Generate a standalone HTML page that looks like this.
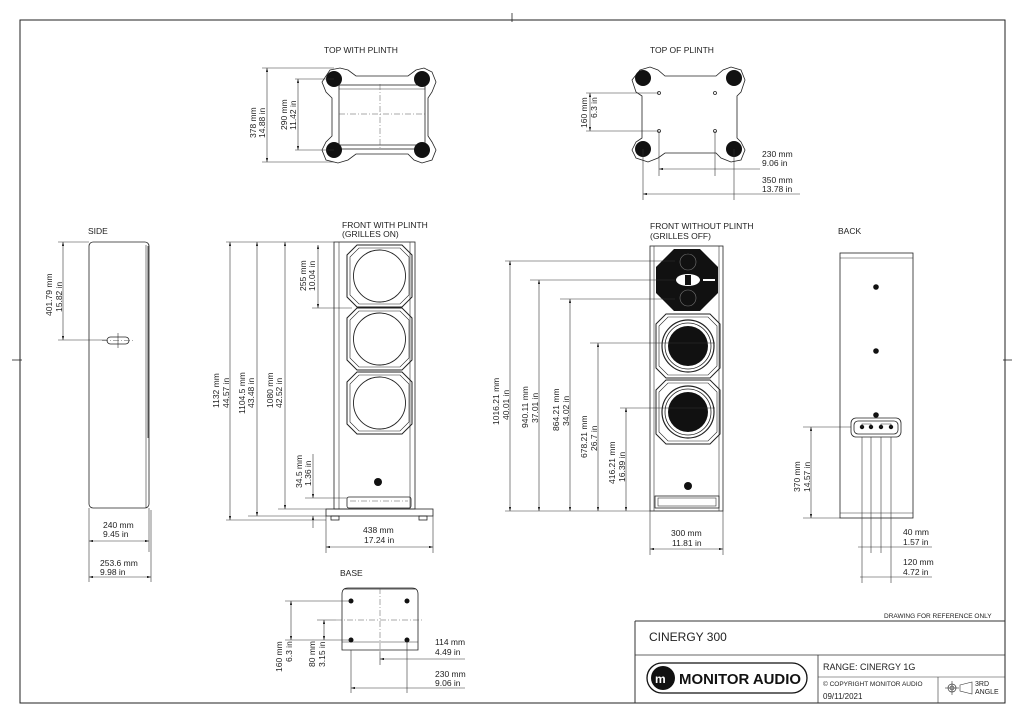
<!DOCTYPE html>
<html><head><meta charset="utf-8"><style>
html,body{margin:0;padding:0;background:#fff}
svg{display:block}
text{font-family:"Liberation Sans",Arial,sans-serif;fill:#222;font-size:8.5px}
.l{stroke:#222;stroke-width:0.8;fill:none}
.d{stroke:#333;stroke-width:0.6;fill:none}
.c{stroke:#555;stroke-width:0.5;fill:none;stroke-dasharray:6 2 1 2}
</style></head><body>
<svg id="s" width="1024" height="721" viewBox="0 0 1024 721" xmlns="http://www.w3.org/2000/svg">
<defs>
<marker id="a" viewBox="0 0 10 6" refX="10" refY="3" markerWidth="7" markerHeight="4" orient="auto-start-reverse"><path d="M0,0 L10,3 L0,6z" fill="#222"/></marker>
</defs>
<rect x="20" y="20" width="985" height="683" fill="none" stroke="#222" stroke-width="1"/>
<line x1="512" y1="13" x2="512" y2="22" class="l"/>
<line x1="12" y1="360" x2="22" y2="360" class="l"/>
<line x1="1003" y1="360" x2="1012" y2="360" class="l"/>

<!-- TOP WITH PLINTH -->
<text x="324" y="53">TOP WITH PLINTH</text>
<path class="l" d="M330,70 L340,68 L348,70 L356,76 L408,76 L416,70 L424,68 L432,72 L436,82 L432,92 L428,98 L428,136 L432,142 L436,150 L432,160 L422,163 L414,160 L408,154 L356,154 L348,160 L338,163 L326,160 L322,150 L326,142 L332,136 L332,98 L326,92 L322,82 Z"/>
<rect x="339" y="85" width="86" height="64" class="l"/>
<line x1="339" y1="89" x2="425" y2="89" class="d"/>
<line x1="339" y1="145" x2="425" y2="145" class="l" stroke-width="2"/>
<line x1="380" y1="84" x2="380" y2="150" class="c"/>
<line x1="339" y1="114" x2="425" y2="114" class="c"/>
<circle cx="334" cy="79" r="8" fill="#111"/><circle cx="422" cy="79" r="8" fill="#111"/>
<circle cx="334" cy="150" r="8" fill="#111"/><circle cx="422" cy="150" r="8" fill="#111"/>
<line x1="262" y1="68" x2="334" y2="68" class="d"/><line x1="262" y1="162" x2="334" y2="162" class="d"/>
<line x1="267" y1="68" x2="267" y2="162" class="d" marker-start="url(#a)" marker-end="url(#a)"/>
<line x1="295" y1="79" x2="334" y2="79" class="d"/><line x1="295" y1="150" x2="334" y2="150" class="d"/>
<line x1="298" y1="79" x2="298" y2="150" class="d" marker-start="url(#a)" marker-end="url(#a)"/>
<text transform="translate(256,138) rotate(-90)">378 mm</text><text transform="translate(265,138) rotate(-90)">14.88 in</text>
<text transform="translate(287,130) rotate(-90)">290 mm</text><text transform="translate(296,130) rotate(-90)">11.42 in</text>

<!-- TOP OF PLINTH -->
<text x="650" y="53">TOP OF PLINTH</text>
<path class="l" d="M640,70 L650,67 L658,70 L665,76 L716,76 L723,70 L731,67 L741,70 L745,80 L741,92 L737,96 L737,138 L741,142 L745,150 L741,160 L731,162 L721,158 L716,153 L665,153 L658,158 L648,162 L636,158 L632,150 L636,142 L642,138 L642,96 L636,92 L632,80 Z"/>
<circle cx="643" cy="78" r="8" fill="#111"/><circle cx="734" cy="78" r="8" fill="#111"/>
<circle cx="643" cy="149" r="8" fill="#111"/><circle cx="734" cy="149" r="8" fill="#111"/>
<circle cx="659" cy="93" r="1.5" class="l"/><circle cx="715" cy="93" r="1.5" class="l"/>
<circle cx="659" cy="131" r="1.5" class="l"/><circle cx="715" cy="131" r="1.5" class="l"/>
<line x1="586" y1="93" x2="659" y2="93" class="d"/><line x1="586" y1="131" x2="659" y2="131" class="d"/>
<line x1="590" y1="93" x2="590" y2="131" class="d" marker-start="url(#a)" marker-end="url(#a)"/>
<text transform="translate(587,128) rotate(-90)">160 mm</text><text transform="translate(597,118) rotate(-90)">6.3 in</text>
<line x1="659" y1="131" x2="659" y2="176" class="d"/><line x1="715" y1="131" x2="715" y2="176" class="d"/>
<line x1="659" y1="169" x2="760" y2="169" class="d" marker-start="url(#a)"/>
<line x1="643" y1="149" x2="643" y2="200" class="d"/><line x1="734" y1="149" x2="734" y2="200" class="d"/>
<line x1="643" y1="194" x2="800" y2="194" class="d" marker-start="url(#a)"/>
<text x="762" y="157">230 mm</text><text x="762" y="166">9.06 in</text>
<text x="762" y="183">350 mm</text><text x="762" y="192">13.78 in</text>

<!-- SIDE -->
<text x="88" y="234">SIDE</text>
<rect x="89" y="242" width="60" height="266" rx="4" class="l"/>
<line x1="146" y1="245" x2="146" y2="508" class="d"/>
<line x1="148" y1="246" x2="148" y2="438" class="l" stroke-width="2"/>
<rect x="107" y="337" width="22" height="7" rx="3.5" class="l"/>
<line x1="118" y1="333" x2="118" y2="348" class="d"/><line x1="102" y1="340.5" x2="134" y2="340.5" class="c"/>
<line x1="58" y1="242" x2="89" y2="242" class="d"/><line x1="58" y1="340" x2="107" y2="340" class="d"/>
<line x1="63" y1="242" x2="63" y2="340" class="d" marker-start="url(#a)" marker-end="url(#a)"/>
<text transform="translate(52,316) rotate(-90)">401.79 mm</text><text transform="translate(62,312) rotate(-90)">15.82 in</text>
<line x1="89" y1="508" x2="89" y2="582" class="d"/><line x1="149" y1="508" x2="149" y2="552" class="d"/><line x1="151" y1="510" x2="151" y2="582" class="d"/>
<line x1="89" y1="541" x2="149" y2="541" class="d" marker-start="url(#a)" marker-end="url(#a)"/>
<line x1="89" y1="577" x2="151" y2="577" class="d" marker-start="url(#a)" marker-end="url(#a)"/>
<text x="103" y="528">240 mm</text><text x="103" y="537">9.45 in</text>
<text x="100" y="566">253.6 mm</text><text x="100" y="575">9.98 in</text>

<!-- FRONT WITH PLINTH -->
<text x="342" y="228">FRONT WITH PLINTH</text><text x="342" y="237">(GRILLES ON)</text>
<rect x="334" y="242" width="81" height="267" class="l"/>
<line x1="339" y1="242" x2="339" y2="509" class="d"/><line x1="410" y1="242" x2="410" y2="509" class="d"/>
<g id="g1"></g>
<circle cx="378" cy="482" r="4" fill="#111"/>
<rect x="347" y="497" width="64" height="11" rx="2" class="l"/>
<line x1="350" y1="501" x2="408" y2="501" class="c"/>
<rect x="326" y="509" width="107" height="7" class="l"/>
<rect x="331" y="516" width="8" height="4" class="l"/><rect x="419" y="516" width="8" height="4" class="l"/>
<line x1="226" y1="242" x2="334" y2="242" class="d"/>
<line x1="226" y1="520" x2="326" y2="520" class="d"/>
<line x1="230" y1="242" x2="230" y2="520" class="d" marker-start="url(#a)" marker-end="url(#a)"/>
<line x1="257" y1="242" x2="257" y2="516" class="d" marker-start="url(#a)" marker-end="url(#a)"/>
<line x1="248" y1="516" x2="326" y2="516" class="d"/>
<line x1="285" y1="242" x2="285" y2="509" class="d" marker-start="url(#a)" marker-end="url(#a)"/>
<line x1="278" y1="509" x2="334" y2="509" class="d"/>
<line x1="318" y1="245" x2="318" y2="308" class="d" marker-start="url(#a)" marker-end="url(#a)"/>
<line x1="312" y1="308" x2="352" y2="308" class="d"/>
<line x1="313" y1="454" x2="313" y2="498" class="d" marker-end="url(#a)"/>
<line x1="313" y1="516" x2="313" y2="528" class="d" marker-start="url(#a)"/>
<line x1="305" y1="498" x2="347" y2="498" class="d"/>
<text transform="translate(219,408) rotate(-90)">1132 mm</text><text transform="translate(229,408) rotate(-90)">44.57 in</text>
<text transform="translate(245,414) rotate(-90)">1104.5 mm</text><text transform="translate(254,408) rotate(-90)">43.48 in</text>
<text transform="translate(273,408) rotate(-90)">1080 mm</text><text transform="translate(282,408) rotate(-90)">42.52 in</text>
<text transform="translate(306,291) rotate(-90)">255 mm</text><text transform="translate(315,291) rotate(-90)">10.04 in</text>
<text transform="translate(302,488) rotate(-90)">34.5 mm</text><text transform="translate(311,486) rotate(-90)">1.36 in</text>
<line x1="326" y1="516" x2="326" y2="553" class="d"/><line x1="433" y1="516" x2="433" y2="553" class="d"/>
<line x1="326" y1="547" x2="433" y2="547" class="d" marker-start="url(#a)" marker-end="url(#a)"/>
<text x="363" y="533">438 mm</text><text x="364" y="543">17.24 in</text>

<!-- FRONT WITHOUT PLINTH -->
<text x="650" y="229">FRONT WITHOUT PLINTH</text><text x="650" y="239">(GRILLES OFF)</text>
<rect x="650" y="246" width="73" height="265" class="l"/>
<line x1="654" y1="246" x2="654" y2="511" class="d"/><line x1="719" y1="246" x2="719" y2="511" class="d"/>
<polygon points="674,249 700,249 718,267 718,293 700,311 674,311 656,293 656,267" fill="#111"/>
<circle cx="688" cy="262" r="8" fill="none" stroke="#777" stroke-width="0.6"/>
<circle cx="688" cy="298" r="8" fill="none" stroke="#777" stroke-width="0.6"/>
<ellipse cx="688" cy="280" rx="12" ry="6" fill="#fff"/>
<rect x="685" y="275" width="6" height="10" fill="#111"/>
<rect x="703" y="279" width="12" height="2" fill="#fff"/>
<g id="g2"></g>
<circle cx="688" cy="486" r="4" fill="#111"/>
<rect x="655" y="496" width="64" height="12" class="l"/><rect x="658" y="498" width="58" height="8" class="d"/>
<line x1="505" y1="261" x2="675" y2="261" class="d"/>
<line x1="530" y1="280" x2="675" y2="280" class="d"/>
<line x1="560" y1="299" x2="675" y2="299" class="d"/>
<line x1="590" y1="343" x2="715" y2="343" class="d"/>
<line x1="620" y1="408" x2="715" y2="408" class="d"/>
<line x1="505" y1="511" x2="650" y2="511" class="d"/>
<line x1="510" y1="261" x2="510" y2="511" class="d" marker-start="url(#a)" marker-end="url(#a)"/>
<line x1="539" y1="280" x2="539" y2="511" class="d" marker-start="url(#a)" marker-end="url(#a)"/>
<line x1="570" y1="299" x2="570" y2="511" class="d" marker-start="url(#a)" marker-end="url(#a)"/>
<line x1="598" y1="343" x2="598" y2="511" class="d" marker-start="url(#a)" marker-end="url(#a)"/>
<line x1="626" y1="408" x2="626" y2="511" class="d" marker-start="url(#a)" marker-end="url(#a)"/>
<text transform="translate(499,425) rotate(-90)">1016.21 mm</text><text transform="translate(509,420) rotate(-90)">40.01 in</text>
<text transform="translate(528,428) rotate(-90)">940.11 mm</text><text transform="translate(538,423) rotate(-90)">37.01 in</text>
<text transform="translate(559,431) rotate(-90)">864.21 mm</text><text transform="translate(569,426) rotate(-90)">34.02 in</text>
<text transform="translate(587,458) rotate(-90)">678.21 mm</text><text transform="translate(597,451) rotate(-90)">26.7 in</text>
<text transform="translate(615,484) rotate(-90)">416.21 mm</text><text transform="translate(625,482) rotate(-90)">16.39 in</text>
<line x1="650" y1="511" x2="650" y2="555" class="d"/><line x1="723" y1="511" x2="723" y2="555" class="d"/>
<line x1="650" y1="549" x2="723" y2="549" class="d" marker-start="url(#a)" marker-end="url(#a)"/>
<text x="671" y="536">300 mm</text><text x="672" y="546">11.81 in</text>

<!-- BACK -->
<text x="838" y="234">BACK</text>
<rect x="840" y="253" width="73" height="265" class="l"/>
<line x1="840" y1="258" x2="913" y2="258" class="d"/><line x1="840" y1="513" x2="913" y2="513" class="d"/>
<circle cx="876" cy="287" r="2.8" fill="#111"/><circle cx="876" cy="351" r="2.8" fill="#111"/><circle cx="876" cy="415" r="2.8" fill="#111"/>
<rect x="851" y="418" width="50" height="19" rx="5" class="l"/><rect x="854" y="421" width="44" height="13" rx="4" class="l"/>
<circle cx="862" cy="427" r="2.2" fill="#111"/><circle cx="871" cy="427" r="2.2" fill="#111"/><circle cx="881" cy="427" r="2.2" fill="#111"/><circle cx="891" cy="427" r="2.2" fill="#111"/>
<path d="M862,427 V424 H871 V427 M881,427 V424 H891 V427" class="d"/>
<line x1="803" y1="427" x2="851" y2="427" class="d"/>
<line x1="803" y1="518" x2="840" y2="518" class="d"/>
<line x1="811" y1="427" x2="811" y2="518" class="d" marker-start="url(#a)" marker-end="url(#a)"/>
<text transform="translate(800,492) rotate(-90)">370 mm</text><text transform="translate(810,492) rotate(-90)">14.57 in</text>
<line x1="862" y1="437" x2="862" y2="583" class="d"/><line x1="871" y1="437" x2="871" y2="553" class="d"/>
<line x1="881" y1="437" x2="881" y2="553" class="d"/><line x1="891" y1="437" x2="891" y2="583" class="d"/>
<line x1="858" y1="547" x2="932" y2="547" class="d"/>
<line x1="860" y1="577" x2="932" y2="577" class="d"/>
<text x="903" y="535">40 mm</text><text x="903" y="545">1.57 in</text>
<text x="903" y="565">120 mm</text><text x="903" y="575">4.72 in</text>

<!-- BASE -->
<text x="340" y="576">BASE</text>
<path class="l" d="M342,650 V594 Q342,588 348,588 H412 Q418,588 418,594 V650 Z"/>
<line x1="344" y1="589" x2="416" y2="589" class="l" stroke-width="1.6"/>
<line x1="342" y1="642" x2="418" y2="642" class="d"/>
<circle cx="351" cy="601" r="2.5" fill="#111"/><circle cx="407" cy="601" r="2.5" fill="#111"/>
<circle cx="351" cy="640" r="2.5" fill="#111"/><circle cx="407" cy="640" r="2.5" fill="#111"/>
<line x1="380" y1="588" x2="380" y2="652" class="c"/><line x1="336" y1="620" x2="424" y2="620" class="c"/>
<line x1="285" y1="601" x2="351" y2="601" class="d"/><line x1="285" y1="640" x2="351" y2="640" class="d"/>
<line x1="317" y1="620" x2="336" y2="620" class="d"/>
<line x1="291" y1="601" x2="291" y2="640" class="d" marker-start="url(#a)" marker-end="url(#a)"/>
<line x1="324" y1="620" x2="324" y2="640" class="d" marker-start="url(#a)" marker-end="url(#a)"/>
<text transform="translate(282,672) rotate(-90)">160 mm</text><text transform="translate(292,662) rotate(-90)">6.3 in</text>
<text transform="translate(315,667) rotate(-90)">80 mm</text><text transform="translate(325,667) rotate(-90)">3.15 in</text>
<line x1="380" y1="652" x2="380" y2="665" class="d"/><line x1="407" y1="640" x2="407" y2="693" class="d"/><line x1="351" y1="650" x2="351" y2="693" class="d"/>
<line x1="380" y1="659" x2="465" y2="659" class="d" marker-start="url(#a)"/>
<line x1="351" y1="688" x2="465" y2="688" class="d" marker-start="url(#a)"/>
<text x="435" y="645">114 mm</text><text x="435" y="655">4.49 in</text>
<text x="435" y="677">230 mm</text><text x="435" y="686">9.06 in</text>

<!-- TITLE BLOCK -->
<text x="884" y="618" style="font-size:6.5px">DRAWING FOR REFERENCE ONLY</text>
<line x1="635" y1="621" x2="1005" y2="621" stroke="#333" stroke-width="1"/>
<line x1="635" y1="621" x2="635" y2="703" stroke="#333" stroke-width="1"/>
<line x1="635" y1="655" x2="1005" y2="655" stroke="#333" stroke-width="0.8"/>
<line x1="818" y1="655" x2="818" y2="703" stroke="#333" stroke-width="0.8"/>
<line x1="818" y1="677" x2="1005" y2="677" stroke="#333" stroke-width="0.6"/>
<line x1="938" y1="677" x2="938" y2="703" stroke="#333" stroke-width="0.6"/>
<text x="649" y="641" style="font-size:12px">CINERGY 300</text>
<rect x="647" y="663" width="160" height="30" rx="15" fill="none" stroke="#111" stroke-width="1.3"/>
<circle cx="663" cy="678" r="12" fill="#111"/>
<text x="655" y="683" style="font-size:12px;fill:#fff;font-weight:bold">m</text>
<text x="679" y="684" style="font-size:14.5px;font-weight:bold;fill:#111" textLength="122" lengthAdjust="spacingAndGlyphs">MONITOR AUDIO</text>
<text x="823" y="670" style="font-size:9px">RANGE: CINERGY 1G</text>
<text x="823" y="686" style="font-size:6.5px">© COPYRIGHT MONITOR AUDIO</text>
<text x="823" y="699" style="font-size:8px">09/11/2021</text>
<circle cx="952" cy="688" r="4" fill="none" stroke="#333" stroke-width="0.7"/>
<circle cx="952" cy="688" r="2" fill="none" stroke="#333" stroke-width="0.7"/>
<line x1="945" y1="688" x2="959" y2="688" class="d"/><line x1="952" y1="681" x2="952" y2="695" class="d"/>
<path d="M960,685 L972,682 V694 L960,691 Z" class="d"/>
<text x="975" y="686" style="font-size:7px">3RD</text><text x="975" y="694" style="font-size:7px">ANGLE</text>
</svg>
<script>
function oct(cx,cy,hx,hy,c){var p=[[cx-hx+c,cy-hy],[cx+hx-c,cy-hy],[cx+hx,cy-hy+c],[cx+hx,cy+hy-c],[cx+hx-c,cy+hy],[cx-hx+c,cy+hy],[cx-hx,cy+hy-c],[cx-hx,cy-hy+c]];return p.map(function(q){return q.join(',')}).join(' ');}
var ns="http://www.w3.org/2000/svg";
function el(g,t,a){var e=document.createElementNS(ns,t);for(var k in a)e.setAttribute(k,a[k]);g.appendChild(e);}
var g1=document.getElementById('g1');
[276,339,403].forEach(function(y){
el(g1,'polygon',{points:oct(379.5,y,32.5,31,10),fill:'none',stroke:'#222','stroke-width':1});
el(g1,'polygon',{points:oct(379.5,y,29.5,28,9),fill:'none',stroke:'#222','stroke-width':0.6});
el(g1,'circle',{cx:379.5,cy:y,r:26,fill:'none',stroke:'#222','stroke-width':0.9});
});
var g2=document.getElementById('g2');
[346,412].forEach(function(y){
el(g2,'polygon',{points:oct(688,y,32,32,10),fill:'none',stroke:'#222','stroke-width':1});
el(g2,'polygon',{points:oct(688,y,29,29,9),fill:'none',stroke:'#222','stroke-width':0.6});
el(g2,'circle',{cx:688,cy:y,r:26,fill:'none',stroke:'#222','stroke-width':1.2});
el(g2,'circle',{cx:688,cy:y,r:23,fill:'none',stroke:'#222','stroke-width':0.8});
el(g2,'circle',{cx:688,cy:y,r:20,fill:'#111'});
});
</script>
</body></html>
